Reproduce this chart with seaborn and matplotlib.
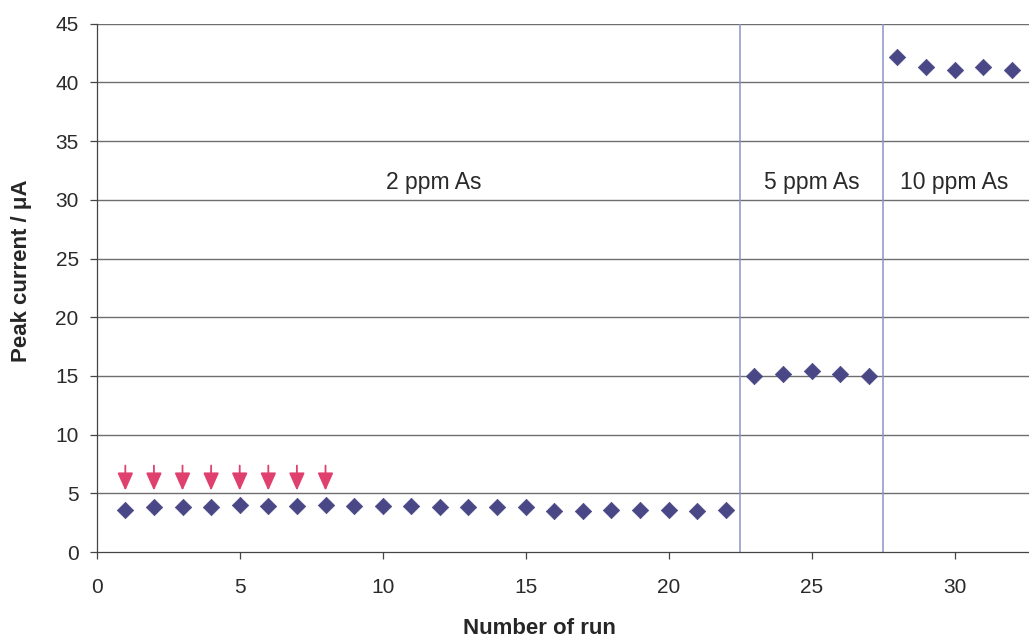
import matplotlib
matplotlib.use("Agg")
import matplotlib.pyplot as plt
import seaborn as sns
import pandas as pd

# Peak current per run
runs = list(range(1, 33))
current = [3.6, 3.8, 3.8, 3.8, 4.0, 3.9, 3.9, 4.0, 3.9, 3.9, 3.9,
           3.8, 3.8, 3.8, 3.8, 3.5, 3.5, 3.6, 3.6, 3.6, 3.5, 3.6,
           15.0, 15.2, 15.4, 15.2, 15.0,
           42.2, 41.3, 41.1, 41.3, 41.1]

# runs marked with arrows
arrow_runs = [1, 2, 3, 4, 5, 6, 7, 8]

# concentration boundaries and labels
boundaries = [22.5, 27.5]
region_labels = ["2 ppm As", "5 ppm As", "10 ppm As"]
label_x = [11.8, 25.0, 30.0]
label_y = 31.5

df = pd.DataFrame({"run": runs, "current": current})

sns.set_theme(style="white")
plt.rcParams["font.family"] = ["Liberation Sans", "DejaVu Sans"]

fig = plt.figure(figsize=(10.29, 6.43), dpi=100)
ax = fig.add_axes([0.094, 0.1415, 0.906, 0.8215])

for yv in range(5, 50, 5):
    ax.axhline(yv, color="#6e6e6e", linewidth=1.0, zorder=0)

for b in boundaries:
    ax.axvline(b, color="#8a95c8", linewidth=1.1, zorder=0)

sns.scatterplot(data=df, x="run", y="current", marker="D", s=70,
                color="#4a4786", edgecolor="#4a4786", linewidth=0.5,
                ax=ax, zorder=3, legend=False)

for r in arrow_runs:
    ax.annotate("", xy=(r, 5.0), xytext=(r, 7.6),
                arrowprops=dict(arrowstyle="-|>,head_width=0.4,head_length=0.9",
                                color="#e0406e", linewidth=1.3))

for x, t in zip(label_x, region_labels):
    ax.text(x, label_y, t, ha="center", va="center", fontsize=16.5, color="#2a2a2a")

ax.set_xlim(0, 32.6)
ax.set_ylim(0, 45)
ax.set_xticks([0, 5, 10, 15, 20, 25, 30])
ax.set_yticks(range(0, 50, 5))
ax.tick_params(axis="both", direction="out", length=5, width=0.9,
               color="#444444", labelsize=15, labelcolor="#2a2a2a",
               left=True, bottom=True)
ax.tick_params(axis="x", pad=14)
ax.tick_params(axis="y", pad=8)

for side in ["top", "right"]:
    ax.spines[side].set_visible(False)
for side in ["left", "bottom"]:
    ax.spines[side].set_color("#444444")
    ax.spines[side].set_linewidth(0.9)

ax.set_xlabel("Number of run", fontsize=16, fontweight="bold", va="center")
ax.xaxis.set_label_coords(0.475, -0.144)
ax.set_ylabel("Peak current / \u03bcA", fontsize=16, fontweight="bold", va="center")
ax.yaxis.set_label_coords(-0.081, 0.532)

fig.savefig("out.png", dpi=100)
